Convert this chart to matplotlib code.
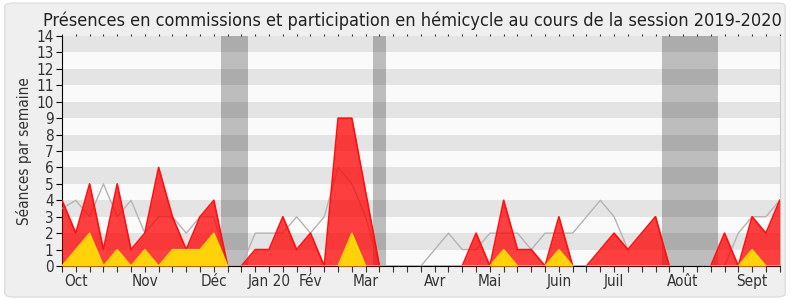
import matplotlib.pyplot as plt
from matplotlib.patches import FancyBboxPatch

plt.rcParams['font.family'] = 'DejaVu Sans'
plt.rcParams['font.stretch'] = 'condensed'

# weekly values, session 2019-2020 (week 0 = start of October)
weeks = list(range(53))
commissions = [4, 2, 5, 1, 5, 1, 2, 6, 3, 1, 3, 4, 0, 0, 1, 1, 3, 1, 2, 0,
               9, 9, 4.5, 0, 0, 0, 0, 0, 0, 0, 2, 0, 4, 1, 1, 0, 3, 0, 0, 1,
               2, 1, 2, 3, 0, 0, 0, 0, 2, 0, 3, 2, 4]
hemicycle = [0, 1, 2, 0, 1, 0, 1, 0, 1, 1, 1, 2, 0, 0, 0, 0, 0, 0, 0, 0,
             0, 2, 0, 0, 0, 0, 0, 0, 0, 0, 0, 0, 1, 0, 0, 0, 1, 0, 0, 0,
             0, 0, 0, 0, 0, 0, 0, 0, 0, 0, 1, 0, 0]
mediane = [3.5, 4, 3, 5, 3, 4, 2, 3, 3, 2, 3, 3, 0, 0, 2, 2, 2, 3, 2, 3,
           6, 5, 3, 0, 0, 0, 0, 1, 2, 1, 1, 2, 2, 2, 1, 2, 2, 2, 3, 4,
           3, 1, 2, 3, 0, 0, 0, 0, 0, 2, 3, 3, 4]
vacances = [(11.5, 13.5), (22.5, 23.5), (43.5, 47.5)]
mois = ['Oct', 'Nov', 'Déc', 'Jan 20', 'Fév', 'Mar', 'Avr', 'Mai', 'Juin', 'Juil', 'Août', 'Sept']
mois_pos = [1, 6, 11, 15, 18, 22, 27, 31, 36, 40, 45, 50]

fig = plt.figure(figsize=(7.9, 3.0), dpi=100, facecolor='white')
fig.patches.append(FancyBboxPatch((0.006, 0.01), 0.988, 0.98, boxstyle='round,pad=0,rounding_size=0.012',
                                  transform=fig.transFigure, facecolor='#efefef', edgecolor='#dedede',
                                  linewidth=1, zorder=-1))
ax = fig.add_axes([0.0785, 0.1133, 0.9085, 0.7667])
ax.set_zorder(1)
ax.set_facecolor('#fafafa')

for a, b in vacances:
    ax.axvspan(a, b, color='#bdbdbd', lw=0, zorder=1)
# horizontal stripes
for k in range(1, 14, 2):
    ax.axhspan(k, k + 1, color='black', alpha=0.085, lw=0, zorder=2)

ax.plot(weeks, mediane, color='#b4b4b4', lw=1, zorder=3)
ax.fill_between(weeks, commissions, color='#ff0000', alpha=0.75, lw=0, zorder=4)
ax.plot(weeks, commissions, color='#ff1010', lw=1.2, zorder=5)
ax.fill_between(weeks, hemicycle, color='#ffd20a', lw=0, zorder=6)
ax.plot(weeks, hemicycle, color='#ffe000', lw=1, zorder=7)

ax.set_xlim(0, 52)
ax.set_ylim(0, 14)
ax.set_yticks(range(15))
ax.set_xticks(weeks)
labels = [''] * 53
for p, m in zip(mois_pos, mois):
    labels[p] = m
ax.set_xticklabels(labels)
ax.tick_params(axis='x', length=4, labelsize=11, colors='#333333', pad=2,
               top=True, labeltop=False)
ax.tick_params(axis='y', length=4, labelsize=11, labelcolor='#333333', pad=2)
for t in ax.xaxis.get_major_ticks():
    t.tick2line.set_markersize(1.5)
    t.tick1line.set_color('black')
    t.tick2line.set_color('black')

ax.spines['top'].set_visible(False)
ax.spines['right'].set_color('#cccccc')
ax.spines['left'].set_color('black')
ax.spines['bottom'].set_color('black')

ax.set_ylabel('Séances par semaine', fontsize=11, color='#333333', labelpad=3)
fig.text(0.522, 0.913, 'Présences en commissions et participation en hémicycle au cours de la session 2019-2020',
         ha='center', va='baseline', fontsize=13, color='#222222')

fig.savefig('out.png', dpi=100, facecolor=fig.get_facecolor())
